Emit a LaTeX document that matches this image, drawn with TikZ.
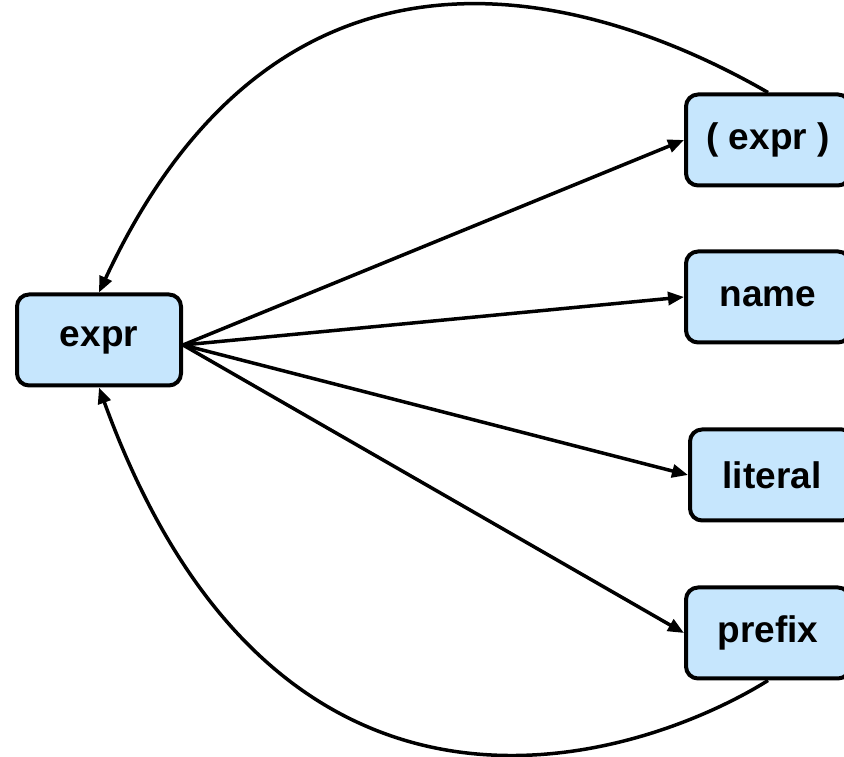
\documentclass[tikz,border=0pt]{standalone}
\usepackage{fontspec}
\setmainfont{Liberation Sans}
\usetikzlibrary{arrows.meta,positioning}
\definecolor{gramFill}{HTML}{C6E6FD}
\tikzset{
  gnode/.style={
    draw, rounded corners=12pt, line width=4pt, fill=gramFill,
    minimum width=164pt, minimum height=91pt,
    font=\fontsize{37}{44}\selectfont\bfseries, align=center
  },
  derive/.style={-{Triangle[length=16pt,width=13pt]}, line width=3.5pt},
  loopback/.style={derive}
}

\begin{document}
\begin{tikzpicture}[x=1pt, y=1pt]
  \useasboundingbox (0,0) rectangle (844,757);
  \node[gnode] (expr) at (99,417) {expr};
  \node[gnode] (pexpr) at (768,617) {( expr )};
  \node[gnode] (name) at (768,460) {name};
  \node[gnode] (lit) at (772,282) {literal};
  \node[gnode] (prefix) at (768,124) {prefix};
  \foreach \n in {pexpr,name,lit,prefix}{\draw[derive] ([yshift=-5pt]expr.east) -- (\n.west);}
  % back edges to expr
  \draw[loopback] (pexpr.north) .. controls +(-151,87) and +(191,410) .. (expr.north);
  \draw[loopback] (prefix.south) .. controls +(-120,-75) and +(182,-501) .. (expr.south);
\end{tikzpicture}
\end{document}
